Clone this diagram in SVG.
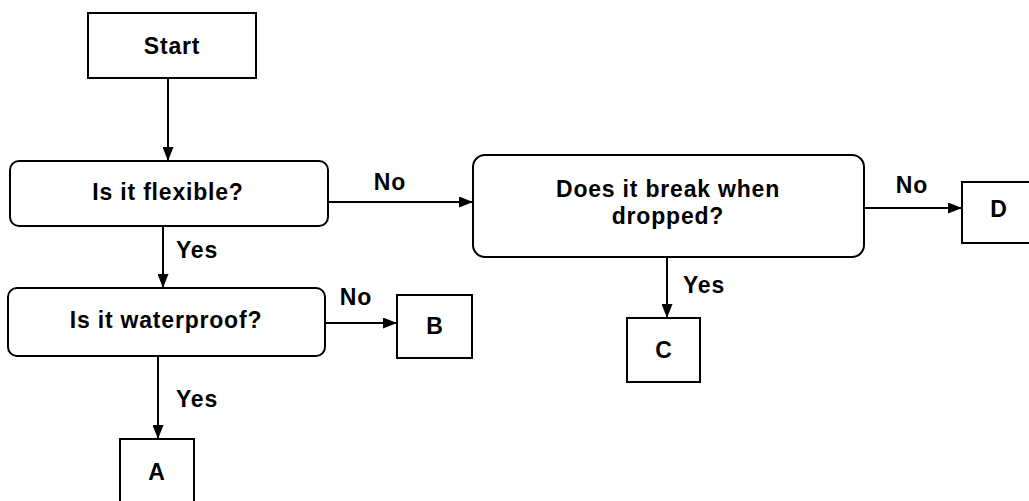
<svg xmlns="http://www.w3.org/2000/svg" width="1029" height="501" viewBox="0 0 1029 501">
<style>
.box{fill:#fff;stroke:#000;stroke-width:2}
.t{font-family:"Liberation Sans",Arial,sans-serif;font-weight:bold;font-size:23px;letter-spacing:0.8px;fill:#000;text-anchor:middle}
.c{fill:none;stroke:#000;stroke-width:2}
</style>
<defs>
<marker id="ah" viewBox="0 0 14 11" refX="14" refY="5.5" markerWidth="14" markerHeight="11" markerUnits="userSpaceOnUse" orient="auto">
<path d="M0,0 L14,5.5 L0,11 Z" fill="#000"/>
</marker>
</defs>
<rect width="1029" height="501" fill="#fff"/>
<g id="connectors">
<line class="c" x1="168" y1="78" x2="168" y2="161" marker-end="url(#ah)"/>
<line class="c" x1="328" y1="202" x2="473" y2="202" marker-end="url(#ah)"/>
<line class="c" x1="864" y1="208" x2="962" y2="208" marker-end="url(#ah)"/>
<line class="c" x1="667" y1="257" x2="667" y2="318" marker-end="url(#ah)"/>
<line class="c" x1="163" y1="226" x2="163" y2="288" marker-end="url(#ah)"/>
<line class="c" x1="325" y1="323" x2="397" y2="323" marker-end="url(#ah)"/>
<line class="c" x1="158" y1="356" x2="158" y2="439" marker-end="url(#ah)"/>
<text class="t" x="390" y="190">No</text>
<text class="t" x="912" y="193">No</text>
<text class="t" x="704" y="293">Yes</text>
<text class="t" x="197" y="258">Yes</text>
<text class="t" x="356" y="305">No</text>
<text class="t" x="197" y="407">Yes</text>
</g>
<g id="start">
<rect class="box" x="88" y="13" width="168" height="65"/>
<text class="t" x="172" y="54">Start</text>
</g>
<g id="flexible">
<rect class="box" x="10" y="161" width="318" height="65" rx="9"/>
<text class="t" x="168" y="200">Is it flexible?</text>
</g>
<g id="break">
<rect class="box" x="473" y="155" width="391" height="102" rx="12"/>
<text class="t" x="668" y="197">Does it break when</text>
<text class="t" x="668" y="224">dropped?</text>
</g>
<g id="D">
<rect class="box" x="962" y="182" width="80" height="61"/>
<text class="t" x="999" y="217">D</text>
</g>
<g id="C">
<rect class="box" x="627" y="318" width="73" height="64"/>
<text class="t" x="664" y="358">C</text>
</g>
<g id="waterproof">
<rect class="box" x="8" y="288" width="317" height="68" rx="9"/>
<text class="t" x="166" y="328">Is it waterproof?</text>
</g>
<g id="B">
<rect class="box" x="397" y="295" width="75" height="63"/>
<text class="t" x="435" y="334">B</text>
</g>
<g id="A">
<rect class="box" x="120" y="439" width="74" height="80"/>
<text class="t" x="157" y="480">A</text>
</g>
</svg>
